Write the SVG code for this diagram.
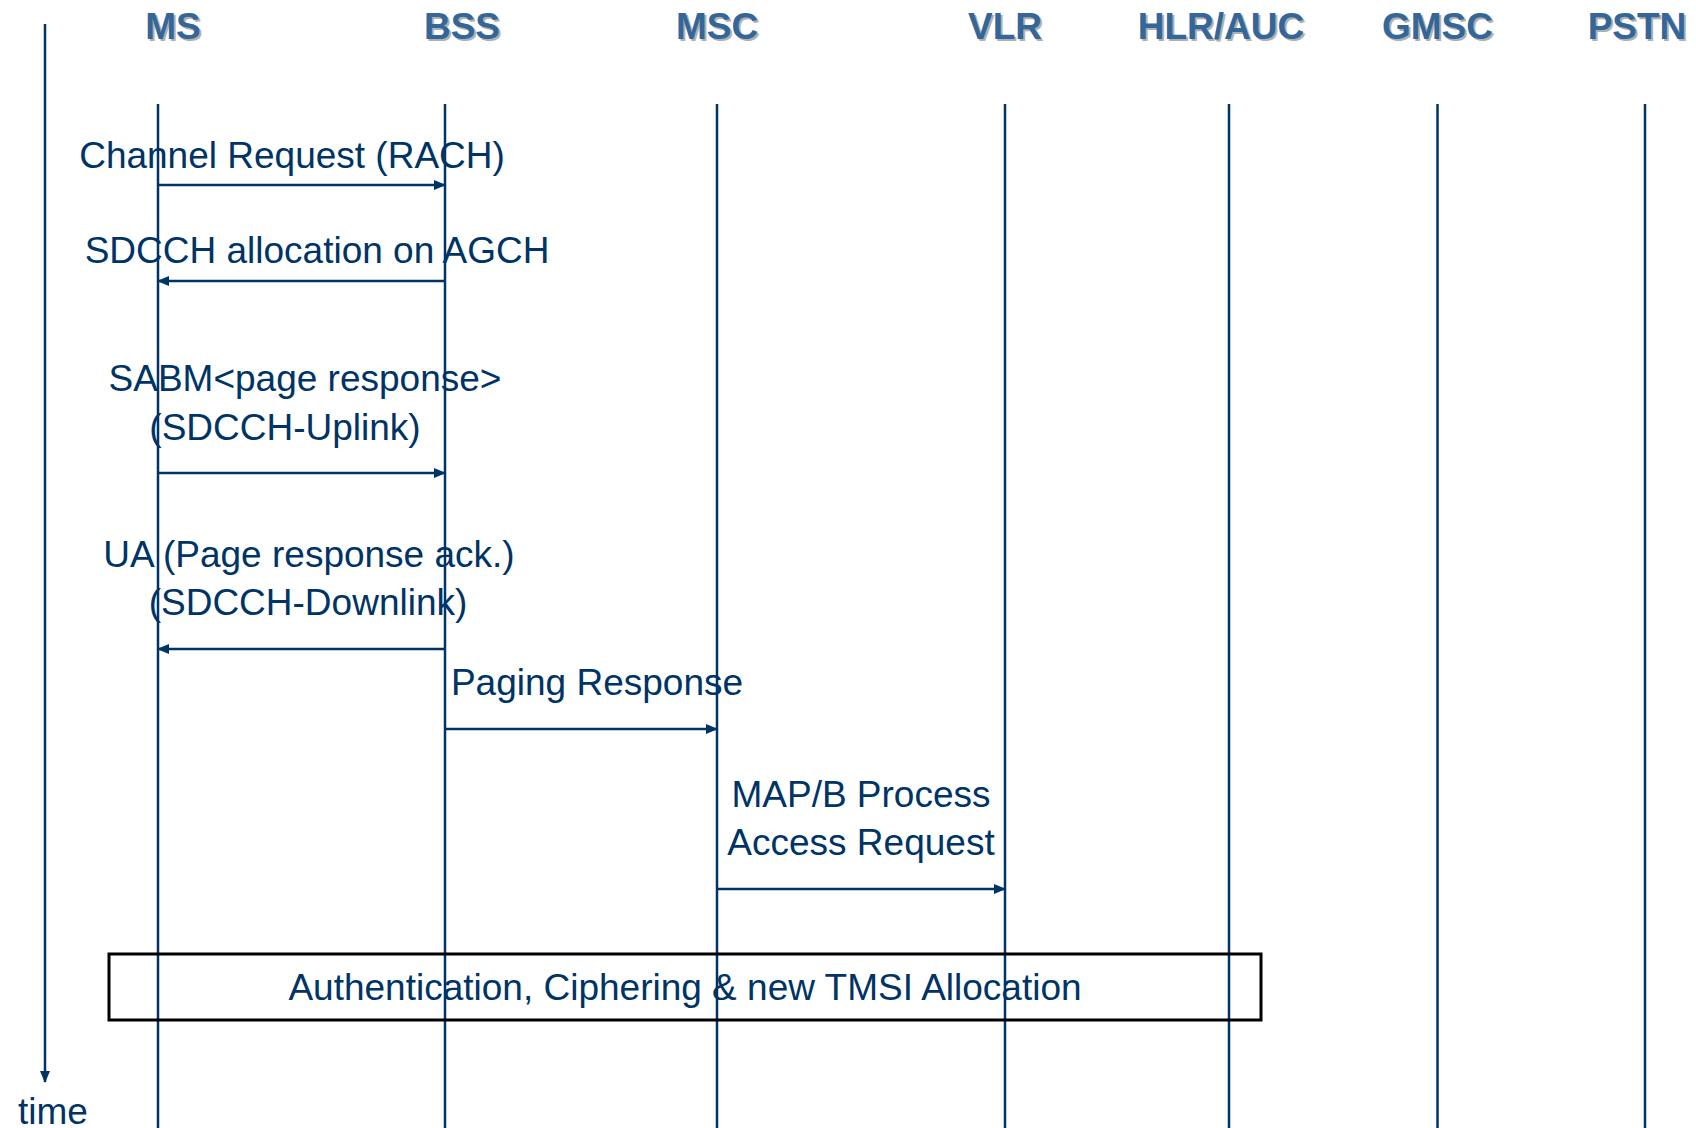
<svg xmlns="http://www.w3.org/2000/svg" width="1696" height="1128" viewBox="0 0 1696 1128">
<style>
.hdr{font-family:"Liberation Sans",Arial,sans-serif;font-weight:bold;font-size:37px;fill:#336699;text-anchor:middle}
.shd{font-family:"Liberation Sans",Arial,sans-serif;font-weight:bold;font-size:37px;fill:#b0b0b0;text-anchor:middle}
.msg{font-family:"Liberation Sans",Arial,sans-serif;font-size:37px;fill:#003366;text-anchor:middle}
.life{stroke:#003366;stroke-width:2.5;fill:none}
.arr{stroke:#003366;stroke-width:2.5;fill:none;marker-end:url(#ah)}
</style>
<defs>
<marker id="ah" markerWidth="12" markerHeight="10" refX="11" refY="5" orient="auto" markerUnits="userSpaceOnUse">
<path d="M0,0 L12,5 L0,10 Z" fill="#003366"/>
</marker>
</defs>
<rect width="1696" height="1128" fill="#ffffff"/>
<g id="headers">
<g id="MS"><text class="shd" x="175" y="41">MS</text><text class="hdr" x="173" y="39">MS</text><line class="life" x1="158" y1="104" x2="158" y2="1128"/></g>
<g id="BSS"><text class="shd" x="464" y="41">BSS</text><text class="hdr" x="462" y="39">BSS</text><line class="life" x1="445" y1="104" x2="445" y2="1128"/></g>
<g id="MSC"><text class="shd" x="719" y="41">MSC</text><text class="hdr" x="717" y="39">MSC</text><line class="life" x1="717" y1="104" x2="717" y2="1128"/></g>
<g id="VLR"><text class="shd" x="1007" y="41">VLR</text><text class="hdr" x="1005" y="39">VLR</text><line class="life" x1="1005" y1="104" x2="1005" y2="1128"/></g>
<g id="HLR"><text class="shd" x="1223" y="41">HLR/AUC</text><text class="hdr" x="1221" y="39">HLR/AUC</text><line class="life" x1="1229" y1="104" x2="1229" y2="1128"/></g>
<g id="GMSC"><text class="shd" x="1439.5" y="41">GMSC</text><text class="hdr" x="1437.5" y="39">GMSC</text><line class="life" x1="1437.5" y1="104" x2="1437.5" y2="1128"/></g>
<g id="PSTN"><text class="shd" x="1639" y="41">PSTN</text><text class="hdr" x="1637" y="39">PSTN</text><line class="life" x1="1645" y1="104" x2="1645" y2="1128"/></g>
</g>
<g id="time">
<line class="arr" x1="45" y1="24" x2="45" y2="1082"/>
<text class="msg" x="53" y="1124">time</text>
</g>
<g id="connectors">
<line class="arr" x1="158" y1="185" x2="445" y2="185"/>
<line class="arr" x1="445" y1="281" x2="158" y2="281"/>
<line class="arr" x1="158" y1="473" x2="445" y2="473"/>
<line class="arr" x1="445" y1="649" x2="158" y2="649"/>
<line class="arr" x1="445" y1="729" x2="717" y2="729"/>
<line class="arr" x1="717" y1="889" x2="1005" y2="889"/>
</g>
<g id="labels">
<text class="msg" x="292" y="168">Channel Request (RACH)</text>
<text class="msg" x="317" y="263">SDCCH allocation on AGCH</text>
<text class="msg" x="305" y="391">SABM&lt;page response&gt;</text>
<text class="msg" x="285" y="440">(SDCCH-Uplink)</text>
<text class="msg" x="309" y="567">UA (Page response ack.)</text>
<text class="msg" x="308" y="615">(SDCCH-Downlink)</text>
<text class="msg" x="597" y="695">Paging Response</text>
<text class="msg" x="861" y="807">MAP/B Process</text>
<text class="msg" x="861" y="855">Access Request</text>
</g>
<g id="auth">
<rect x="109" y="954" width="1152" height="66" fill="none" stroke="#000000" stroke-width="3"/>
<text class="msg" x="685" y="1000">Authentication, Ciphering &amp; new TMSI Allocation</text>
</g>
</svg>
